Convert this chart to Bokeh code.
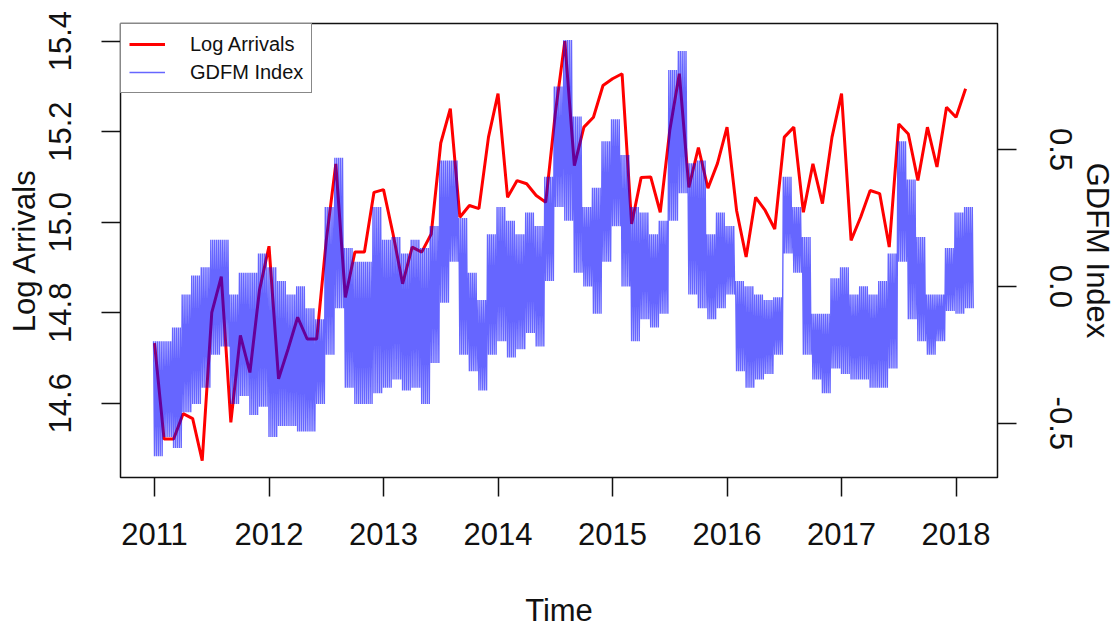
import numpy as np
from bokeh.plotting import figure
from bokeh.models import Range1d, LinearAxis, FixedTicker, PrintfTickFormatter, Legend, LegendItem
from bokeh.embed import file_html
from bokeh.resources import INLINE

# ---- data (monthly, Jan 2011 .. Feb 2018) ----
start_year = 2011
log_arrivals = [
    14.733, 14.521, 14.521, 14.577, 14.566, 14.473, 14.800, 14.880, 14.558, 14.750, 14.668, 14.850,
    14.947, 14.654, 14.720, 14.790, 14.742, 14.742, 14.960, 15.129, 14.834, 14.934, 14.934, 15.066,
    15.072, 14.974, 14.864, 14.945, 14.934, 14.974, 15.175, 15.251, 15.011, 15.037, 15.030, 15.188,
    15.284, 15.055, 15.092, 15.085, 15.059, 15.044, 15.240, 15.400, 15.125, 15.210, 15.232, 15.302,
    15.317, 15.328, 14.996, 15.099, 15.100, 15.022, 15.203, 15.328, 15.077, 15.165, 15.075, 15.130,
    15.210, 15.026, 14.923, 15.055, 15.026, 14.985, 15.188, 15.210, 15.022, 15.129, 15.041, 15.188,
    15.284, 14.960, 15.011, 15.070, 15.063, 14.945, 15.217, 15.195, 15.092, 15.210, 15.122, 15.254,
    15.232, 15.295,
]
# GDFM index: upper / lower extent of the daily series within each month
gdfm_high = [
    -0.20, -0.20, -0.15, -0.03, 0.04, 0.07, 0.17, 0.17, -0.03, 0.05, 0.05, 0.12,
    0.07, 0.02, -0.03, 0.00, -0.08, -0.12, 0.29, 0.47, 0.14, 0.09, 0.09, 0.29,
    0.17, 0.18, 0.12, 0.17, 0.14, 0.22, 0.46, 0.46, 0.25, 0.05, -0.05, 0.19,
    0.29, 0.24, 0.19, 0.27, 0.22, 0.40, 0.73, 0.90, 0.62, 0.29, 0.36, 0.53,
    0.61, 0.48, 0.29, 0.27, 0.19, 0.24, 0.79, 0.86, 0.45, 0.46, 0.19, 0.27,
    0.22, 0.02, 0.00, -0.03, -0.05, -0.04, 0.40, 0.29, 0.18, -0.10, -0.10, 0.03,
    0.07, -0.03, 0.00, -0.03, 0.02, 0.12, 0.53, 0.39, 0.18, -0.03, -0.03, 0.14,
    0.27, 0.29,
]
gdfm_low = [
    -0.62, -0.55, -0.59, -0.46, -0.43, -0.37, -0.25, -0.22, -0.43, -0.40, -0.47, -0.44,
    -0.55, -0.51, -0.51, -0.53, -0.53, -0.43, -0.25, -0.08, -0.37, -0.43, -0.43, -0.39,
    -0.37, -0.34, -0.38, -0.37, -0.43, -0.28, -0.06, 0.09, -0.25, -0.31, -0.38, -0.25,
    -0.20, -0.26, -0.23, -0.17, -0.22, 0.02, 0.29, 0.24, 0.05, 0.00, -0.10, 0.09,
    0.22, 0.00, -0.20, -0.12, -0.15, -0.10, 0.24, 0.34, -0.03, -0.08, -0.12, -0.08,
    -0.03, -0.31, -0.37, -0.34, -0.32, -0.25, 0.12, 0.05, -0.25, -0.34, -0.39, -0.30,
    -0.32, -0.34, -0.34, -0.37, -0.37, -0.30, 0.09, -0.12, -0.20, -0.25, -0.20, -0.09,
    -0.10, -0.08,
]
x_ticks = [2011, 2012, 2013, 2014, 2015, 2016, 2017, 2018]
left_ticks = [14.6, 14.8, 15.0, 15.2, 15.4]
right_ticks = [-0.5, 0.0, 0.5]

t_month = start_year + np.arange(len(log_arrivals)) / 12.0

# daily-looking trace: alternate between the monthly upper and lower extents
STEPS = 10
bt, bv = [], []
for k in range(len(gdfm_high)):
    for j in range(STEPS):
        bt.append(t_month[k] + (j - 1) / (12.0 * STEPS))
        bv.append(gdfm_high[k] if j % 2 == 0 else gdfm_low[k])

FONT = "Liberation Sans"

p = figure(frame_width=877, frame_height=454,
           min_border_left=120, min_border_right=115, min_border_top=23, min_border_bottom=152,
           x_range=Range1d(2010.703, 2018.362), y_range=Range1d(14.436, 15.439),
           output_backend="svg", toolbar_location=None)
p.extra_y_ranges = {"gdfm": Range1d(-0.698, 0.960)}

red = p.line(t_month, log_arrivals, line_color="#FF0000", line_width=3)
blue = p.line(bt, bv, y_range_name="gdfm", line_color="#0000FF", line_alpha=0.6, line_width=1.4)

right_axis = LinearAxis(y_range_name="gdfm")
p.add_layout(right_axis, "right")

p.xgrid.visible = False
p.ygrid.visible = False
p.outline_line_color = "#111111"
p.outline_line_width = 1.5
p.background_fill_color = "white"
p.border_fill_color = "white"

p.xaxis.ticker = FixedTicker(ticks=x_ticks)
p.yaxis[0].ticker = FixedTicker(ticks=left_ticks)
right_axis.ticker = FixedTicker(ticks=right_ticks)
p.yaxis[0].formatter = PrintfTickFormatter(format="%.1f")
right_axis.formatter = PrintfTickFormatter(format="%.1f")

p.xaxis.axis_label = "Time"
p.yaxis[0].axis_label = "Log Arrivals"
right_axis.axis_label = "GDFM Index"

for ax in [p.xaxis[0], p.yaxis[0], right_axis]:
    ax.axis_line_color = None
    ax.major_tick_out = 19
    ax.major_tick_in = 0
    ax.major_tick_line_color = "#111111"
    ax.major_tick_line_width = 1.5
    ax.minor_tick_line_color = None
    ax.major_label_text_font = FONT
    ax.major_label_text_font_size = "31px"
    ax.major_label_text_color = "#111111"
    ax.axis_label_text_font = FONT
    ax.axis_label_text_font_size = "31px"
    ax.axis_label_text_font_style = "normal"
    ax.axis_label_text_color = "#111111"

p.xaxis.major_label_standoff = 26
p.xaxis.axis_label_standoff = 45
p.yaxis[0].major_label_orientation = "vertical"
p.yaxis[0].major_label_standoff = 30
p.yaxis[0].axis_label_standoff = 5
right_axis.major_label_orientation = "vertical"
right_axis.major_label_standoff = 33
right_axis.axis_label_standoff = 5

legend = Legend(items=[LegendItem(label="Log Arrivals", renderers=[red]),
                       LegendItem(label="GDFM Index", renderers=[blue])],
                location="top_left", margin=0, padding=8, spacing=4,
                glyph_width=36, glyph_height=24, label_standoff=25,
                label_text_font=FONT, label_text_font_size="20px", label_text_color="#111111",
                border_line_color="#111111", border_line_width=1.5, background_fill_alpha=1.0)
p.add_layout(legend)

open("out.html", "w").write(file_html(p, INLINE))
